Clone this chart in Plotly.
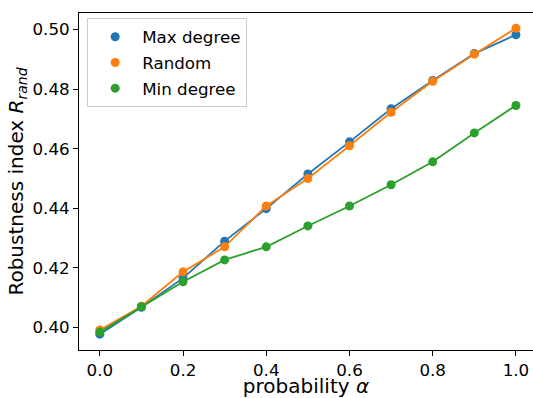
import plotly.graph_objects as go

alpha = [0.0, 0.1, 0.2, 0.3, 0.4, 0.5, 0.6, 0.7, 0.8, 0.9, 1.0]
max_degree = [0.3978, 0.4068, 0.4166, 0.4290, 0.4399, 0.4515, 0.4623, 0.4734, 0.4829, 0.4919, 0.4982]
random_sel = [0.3992, 0.4072, 0.4187, 0.4271, 0.4408, 0.4500, 0.4610, 0.4722, 0.4826, 0.4917, 0.5004]
min_degree = [0.3985, 0.4070, 0.4154, 0.4227, 0.4271, 0.4341, 0.4408, 0.4479, 0.4556, 0.4653, 0.4745]
series_names = ["Max degree", "Random", "Min degree"]
colors = ["#1f77b4", "#ff7f0e", "#2ca02c"]
x_ticks = [0.0, 0.2, 0.4, 0.6, 0.8, 1.0]
y_ticks = [0.40, 0.42, 0.44, 0.46, 0.48, 0.50]

FONT = "DejaVu Sans"
FS = 16.7
fig = go.Figure()
for i, (name, vals) in enumerate(zip(series_names, [max_degree, random_sel, min_degree])):
    fig.add_trace(go.Scatter(x=alpha, y=vals, mode="lines+markers", name=name,
                             line=dict(color=colors[i], width=1.8),
                             marker=dict(color=colors[i], size=9),
                             showlegend=False))
for i, name in enumerate(series_names):
    fig.add_trace(go.Scatter(x=[None], y=[None], mode="markers", name=name,
                             marker=dict(color=colors[i], size=9),
                             legendgroup=f"g{i}", showlegend=True))

fig.update_layout(
    width=533, height=398,
    margin=dict(l=79, r=0, t=13, b=48),
    paper_bgcolor="white", plot_bgcolor="white",
    font=dict(family=FONT, size=FS, color="black"),
    legend=dict(x=0.018, y=0.984, xanchor="left", yanchor="top",
                bordercolor="#cccccc", borderwidth=1, bgcolor="white",
                font=dict(size=FS), tracegroupgap=1, itemwidth=44),
    xaxis=dict(range=[-0.05, 1.041], tickvals=x_ticks, ticktext=[f"{v:.1f}" for v in x_ticks],
               showgrid=False, zeroline=False, showline=True, linecolor="black", linewidth=1,
               mirror=True, ticks="outside", ticklen=5, tickcolor="black", automargin=False,
               title=dict(text="probability <i>α</i>", standoff=5)),
    yaxis=dict(range=[0.3925, 0.5055], tickvals=y_ticks, ticktext=[f"{v:.2f}" for v in y_ticks],
               showgrid=False, zeroline=False, showline=True, linecolor="black", linewidth=1,
               ticks="outside", ticklen=5, tickcolor="black", automargin=False,
               title=dict(text="Robustness index <i>R</i><sub><i>rand</i></sub>", standoff=3)),
)
fig.write_html("out.html", config={"displayModeBar": False},
               post_script="document.body.style.margin='0';document.body.style.overflow='hidden';")
